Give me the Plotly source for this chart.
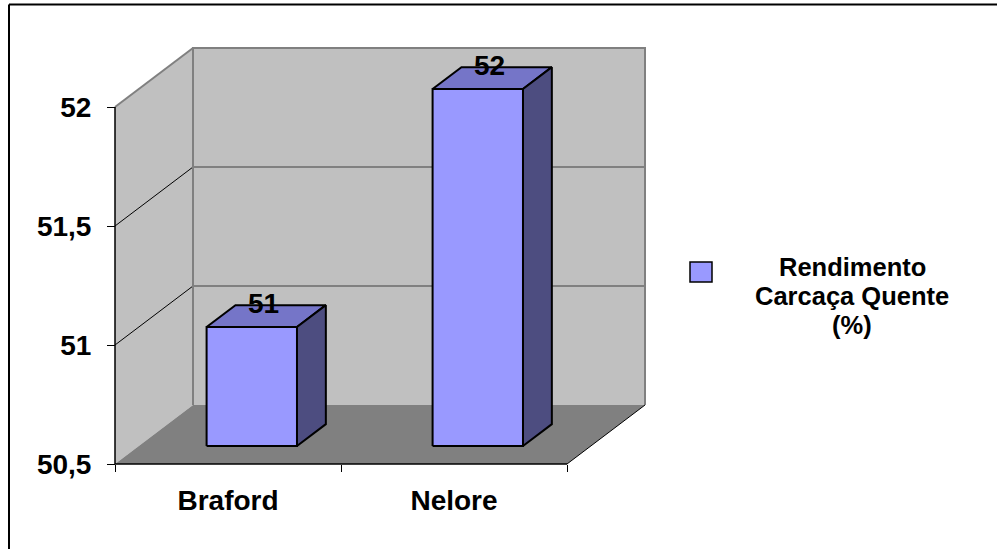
import plotly.graph_objects as go

# ---------------- data ----------------
CATEGORIES = ["Braford", "Nelore"]
VALUES = [51.0, 52.0]
SERIES_LABEL_LINES = ["Rendimento", "Carcaça Quente", "(%)"]
Y_TICKS = [50.5, 51.0, 51.5, 52.0]
Y_TICK_LABELS = ["50,5", "51", "51,5", "52"]
Y_MIN, Y_MAX = 50.5, 52.0

# ---------------- layout / projection settings ----------------
W, H = 997, 549
PX_LEFT, PX_PER_CAT = 115, 226      # front plane: left edge, pixels per category
PY_BASE, PY_PER_UNIT = 464, 238     # front plane: baseline pixel, pixels per value unit
DEPTH_PX = (78, 59)                 # oblique depth vector (right, up) in pixels
DX = DEPTH_PX[0] / PX_PER_CAT
DV = DEPTH_PX[1] / PY_PER_UNIT
BAR_HALF = 0.2
BAR_D0, BAR_D1 = 0.305, 0.675

X0, X1 = -0.5, len(CATEGORIES) - 0.5
x_range = [(0 - PX_LEFT) / PX_PER_CAT + X0, (W - PX_LEFT) / PX_PER_CAT + X0]
y_range = [Y_MIN - (H - PY_BASE) / PY_PER_UNIT, Y_MIN + PY_BASE / PY_PER_UNIT]

FONT = "Liberation Sans, Arial, sans-serif"
FS = 28
FS_LEG = 25.5
C_WALL, C_FLOOR, C_EDGE = "#C0C0C0", "#808080", "#808080"
C_FRONT, C_TOP, C_SIDE = "#9999FF", "#7575C8", "#4D4D80"


def P(x, v, d):
    return (x + d * DX, v + d * DV)


def poly(points, fill, lc="black", lw=0):
    xs = [p[0] for p in points] + [points[0][0]]
    ys = [p[1] for p in points] + [points[0][1]]
    return go.Scatter(x=xs, y=ys, mode="lines", fill="toself", fillcolor=fill,
                      line=dict(color=lc if lw else fill, width=lw if lw else 0),
                      hoverinfo="skip", showlegend=False)


def polyline(points, color, width):
    return go.Scatter(x=[p[0] for p in points], y=[p[1] for p in points], mode="lines",
                      line=dict(color=color, width=width), hoverinfo="skip", showlegend=False)


traces = []
# back wall
traces.append(poly([P(X0, Y_MIN, 1), P(X1, Y_MIN, 1), P(X1, Y_MAX, 1), P(X0, Y_MAX, 1)], C_WALL))
# left wall
traces.append(poly([P(X0, Y_MIN, 0), P(X0, Y_MAX, 0), P(X0, Y_MAX, 1), P(X0, Y_MIN, 1)], C_WALL))
# floor
traces.append(poly([P(X0, Y_MIN, 0), P(X1, Y_MIN, 0), P(X1, Y_MIN, 1), P(X0, Y_MIN, 1)], C_FLOOR))
# gridlines
for v in Y_TICKS:
    if Y_MIN < v < Y_MAX:
        traces.append(polyline([P(X0, v, 1), P(X1, v, 1)], C_EDGE, 2))
        traces.append(polyline([P(X0, v, 0), P(X0, v, 1)], "black", 1))
# wall edges
traces.append(polyline([P(X0, Y_MIN, 1), P(X0, Y_MAX, 1), P(X1, Y_MAX, 1), P(X1, Y_MIN, 1)], C_EDGE, 2))
traces.append(polyline([P(X0, Y_MAX, 0), P(X0, Y_MAX, 1)], C_EDGE, 2))
traces.append(polyline([P(X1, Y_MIN, 0), P(X1, Y_MIN, 1)], "black", 1))
# axis lines
traces.append(polyline([P(X0, Y_MAX, 0), P(X0, Y_MIN, 0), P(X1, Y_MIN, 0)], "black", 1.5))

# bars
annotations = []
for i, (cat, val) in enumerate(zip(CATEGORIES, VALUES)):
    l, r = i - BAR_HALF, i + BAR_HALF
    front = [P(l, Y_MIN, BAR_D0), P(r, Y_MIN, BAR_D0), P(r, val, BAR_D0), P(l, val, BAR_D0)]
    top = [P(l, val, BAR_D0), P(r, val, BAR_D0), P(r, val, BAR_D1), P(l, val, BAR_D1)]
    side = [P(r, Y_MIN, BAR_D0), P(r, val, BAR_D0), P(r, val, BAR_D1), P(r, Y_MIN, BAR_D1)]
    traces.append(poly(front, C_FRONT, "black", 2))
    traces.append(poly(top, C_TOP, "black", 2))
    traces.append(poly(side, C_SIDE, "black", 2))
    lx, ly = P(i, val, (BAR_D0 + BAR_D1) / 2)
    annotations.append(dict(x=lx, y=ly, xref="x", yref="y", text=f"{val:.0f}", showarrow=False,
                            xshift=-3, yshift=13, yanchor="middle",
                            font=dict(family=FONT, size=FS, color="black", weight="bold")))

# legend (series name) text
legend_cx = 852
for line, cy in zip(SERIES_LABEL_LINES, [266.5, 295.5, 324.5]):
    annotations.append(dict(x=legend_cx / W, y=1 - cy / H, xref="paper", yref="paper", text=line,
                            showarrow=False, xanchor="center", yanchor="middle",
                            font=dict(family=FONT, size=FS_LEG, color="black", weight="bold")))

shapes = [
    dict(type="rect", xref="paper", yref="paper", x0=690 / W, x1=712 / W, y0=1 - 262 / H, y1=1 - 282 / H,
         fillcolor=C_FRONT, line=dict(color="black", width=1.5)),
    dict(type="line", xref="paper", yref="paper", x0=9 / W, x1=1, y0=1 - 4.5 / H, y1=1 - 4.5 / H,
         line=dict(color="black", width=2)),
    dict(type="line", xref="paper", yref="paper", x0=9 / W, x1=9 / W, y0=1 - 4.5 / H, y1=0,
         line=dict(color="black", width=2)),
]

fig = go.Figure(traces)
fig.update_layout(
    width=W, height=H, margin=dict(l=0, r=0, t=0, b=0, pad=0),
    paper_bgcolor="white", plot_bgcolor="white", showlegend=False,
    separators=",.",
    annotations=annotations, shapes=shapes,
    xaxis=dict(domain=[0, 1], range=x_range, anchor="free", position=1 - PY_BASE / H,
               showgrid=False, zeroline=False, showline=False, automargin=False,
               tickmode="array", tickvals=list(range(len(CATEGORIES))), ticktext=CATEGORIES,
               ticks="", ticklabelstandoff=17,
               tickfont=dict(family=FONT, size=FS, color="black", weight="bold"),
               minor=dict(tickmode="array", tickvals=[X0 + k for k in range(len(CATEGORIES) + 1)],
                          ticks="outside", ticklen=7, tickcolor="black", tickwidth=1, showgrid=False),
               fixedrange=True),
    yaxis=dict(domain=[0, 1], range=y_range, anchor="free", position=PX_LEFT / W,
               showgrid=False, zeroline=False, showline=False, automargin=False,
               tickmode="array", tickvals=Y_TICKS, ticktext=Y_TICK_LABELS,
               ticks="outside", ticklen=8, tickcolor="black", tickwidth=1, ticklabelstandoff=10,
               tickfont=dict(family=FONT, size=FS, color="black", weight="bold"),
               fixedrange=True),
)
fig.write_html("out.html")
